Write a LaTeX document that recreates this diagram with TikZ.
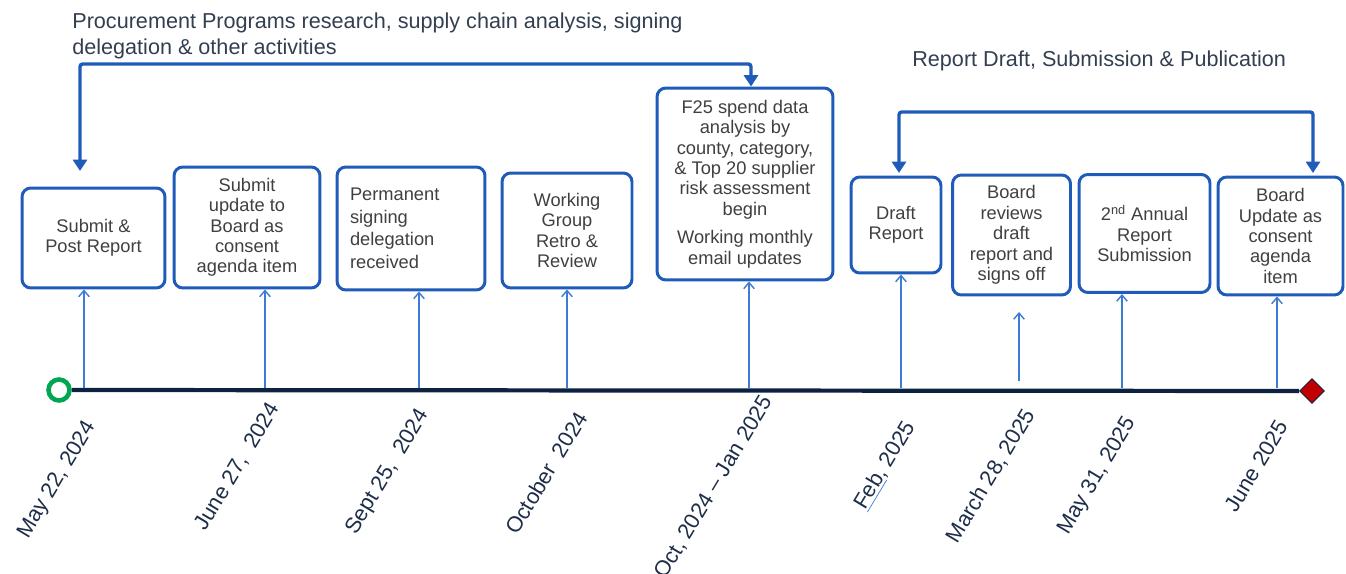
\documentclass[tikz,border=0pt]{standalone}
\usepackage{fontspec}
\setmainfont{Liberation Sans}
\usetikzlibrary{arrows.meta,shapes.geometric}
\definecolor{boxblue}{HTML}{1F5BB8}
\definecolor{tickblue}{HTML}{3C7BD6}
\definecolor{navy}{HTML}{0D2142}
\definecolor{datecol}{HTML}{1E2D48}
\definecolor{txtgray}{HTML}{404040}
\definecolor{titlecol}{HTML}{333F50}
\definecolor{ringgreen}{HTML}{00A651}
\definecolor{diamred}{HTML}{C00000}

\begin{document}
\begin{tikzpicture}[x=0.02cm, y=-0.02cm,
    box/.style={draw=boxblue, line width=1.7pt, rounded corners=5pt, fill=white, align=center,
        text=txtgray, font=\fontsize{10.4}{11.6}\selectfont, inner sep=2pt},
    date/.style={rotate=59, anchor=north east, inner sep=0pt, text=datecol,
        font=\fontsize{12.4}{14}\selectfont},
    tick/.style={draw=tickblue, line width=0.8pt, -{Straight Barb[length=3.5pt,width=6pt]}},
    bracket/.style={draw=boxblue, line width=1.9pt, rounded corners=1.5pt,
        {Triangle[length=6.5pt,width=8pt]}-{Triangle[length=6.5pt,width=8pt]}},
    title/.style={text=titlecol, inner sep=0pt, font=\fontsize{12.3}{15.2}\selectfont}]

\useasboundingbox (0,0) rectangle (1346,574);

% headings
\node[title, anchor=north west, align=left] (T1) at (72,12) {Procurement Programs research, supply chain analysis, signing\\delegation \& other activities};
\node[title, anchor=base west] (T2) at (912,67) {Report Draft, Submission \& Publication};

% boxes
\node[box, minimum width=2.86cm, minimum height=2.0cm] (A) at (93.5,238) {Submit \&\\Post Report};
\node[box, minimum width=2.92cm, minimum height=2.42cm] (B) at (247,227.5) {Submit\\update to\\Board as\\consent\\agenda item};
\node[box, minimum width=2.96cm, minimum height=2.46cm, text width=2.44cm, align=left,
    font=\fontsize{10.4}{12.8}\selectfont] (C) at (411,228.5) {Permanent\\signing\\delegation\\received};
\node[box, minimum width=2.6cm, minimum height=2.3cm] (D) at (567,230.5) {Working\\Group\\Retro \&\\Review};
\node[box, minimum width=3.52cm, minimum height=3.84cm] (E) at (745,184) {F25 spend data\\analysis by\\county, category,\\\& Top 20 supplier\\risk assessment\\begin\\[4.5pt]Working monthly\\email updates};
\node[box, minimum width=1.8cm, minimum height=1.92cm] (F) at (896,225) {Draft\\Report};
\node[box, minimum width=2.36cm, minimum height=2.4cm] (G) at (1011.5,235) {Board\\reviews\\draft\\report and\\signs off};
\node[box, minimum width=2.62cm, minimum height=2.36cm] (H) at (1144.5,233.5) {2\textsuperscript{nd} Annual\\Report\\Submission};
\node[box, minimum width=2.5cm, minimum height=2.36cm] (K) at (1280.5,236) {Board\\Update as\\consent\\agenda\\item};

% timeline
\node[circle, draw=ringgreen, line width=2.6pt, fill=white, minimum size=0.42cm, inner sep=0pt] (S) at (59,390) {};
\node[diamond, draw=navy, line width=0.5pt, fill=diamred, minimum size=0.5cm, inner sep=0pt] (Z) at (1312,391) {};
\draw[navy, line width=2.4pt] (S) -- (Z);

% ticks up to the boxes
\coordinate (a1) at (84,388);
\coordinate (a2) at (265,388);
\coordinate (a3) at (419,388);
\coordinate (a4) at (567,388);
\coordinate (a5) at (749,388);
\coordinate (a6) at (901,388);
\coordinate (a7) at (1019,381);
\coordinate (b7) at (1019,312);
\coordinate (a8) at (1122,388);
\coordinate (a9) at (1277,388);
\draw[tick] (a1) -- (a1 |- A.south);
\draw[tick] (a2) -- (a2 |- B.south);
\draw[tick] (a3) -- (a3 |- C.south);
\draw[tick] (a4) -- (a4 |- D.south);
\draw[tick] (a5) -- (a5 |- E.south);
\draw[tick] (a6) -- (a6 |- F.south);
\draw[tick] (a7) -- (b7);
\draw[tick] (a8) -- (a8 |- H.south);
\draw[tick] (a9) -- (a9 |- K.south);

% brackets
\coordinate (L1) at (80,171);
\coordinate (L2) at (80,64);
\coordinate (L3) at (751,64);
\draw[bracket] (L1) -- (L2) -- (L3) -- (L3 |- E.north);
\coordinate (R1) at (899,173);
\coordinate (R2) at (899,112);
\coordinate (R3) at (1313,112);
\coordinate (R4) at (1313,173);
\draw[bracket] (R1) -- (R2) -- (R3) -- (R4);

% dates
\node[date] (d1) at (83,418) {May 22, 2024};
\node[date] (d2) at (267,400) {June 27, \ 2024};
\node[date] (d3) at (416,406) {Sept 25, \ 2024};
\node[date] (d4) at (575,409) {October \ 2024};
\node[date] (d5) at (760,393) {Oct, 2024 -- Jan 2025};
\node[date] (d6) at (902,418) {{\color{tickblue}\underline{\textcolor{datecol}{Feb}}}, 2025};
\node[date] (d7) at (1022,406) {March 28, 2025};
\node[date] (d8) at (1123,414) {May 31, 2025};
\node[date] (d9) at (1276,418) {June 2025};
\end{tikzpicture}
\end{document}
